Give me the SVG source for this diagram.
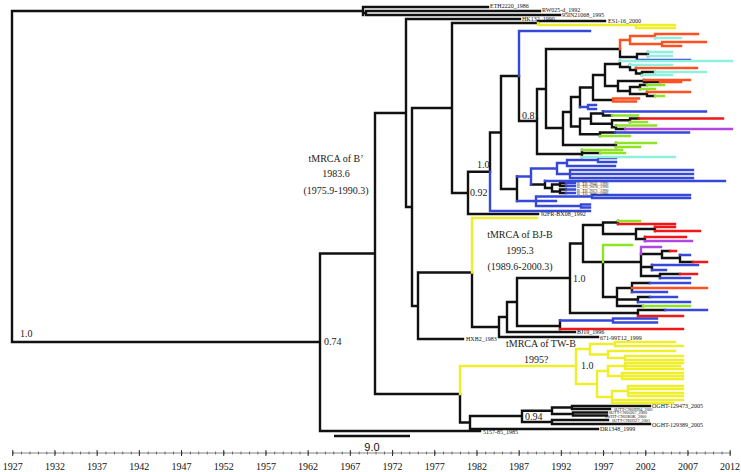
<svg xmlns="http://www.w3.org/2000/svg" width="741" height="472" viewBox="0 0 741 472">
<style>
.e{fill:none;stroke-width:2.4;stroke-linecap:square}
.k{stroke:#111}.bl{stroke:#3548d8}.or{stroke:#ff5020}.cy{stroke:#8ff0e0}.gr{stroke:#8fe326}.rd{stroke:#ee1818}.pu{stroke:#b048e0}.ye{stroke:#eeee2a}
.t{font-family:"Liberation Serif",serif;font-size:6px;fill:#111}
.s{font-family:"Liberation Serif",serif;font-size:4.2px;fill:#111}
.a{font-family:"Liberation Serif",serif;font-size:10px;fill:#222}
.m{font-family:"Liberation Serif",serif;font-size:10px;fill:#222;text-anchor:middle}
.yr{font-family:"Liberation Serif",serif;font-size:10px;fill:#111;text-anchor:middle}
</style>
<rect width="741" height="472" fill="#fff"/>
<g id="connectors">
<path class="e k" d="M12 11V342M12 11H363M363 7V15M363 7H488M363 13H366M366 11V15M366 11H540M366 15H560
M12 342H320M320 253.5V431M320 431H480M320 253.5H375M375 113V394M375 113H406
M406 19V207M406 19H520M406 207H412M412 108V306M412 108H452
M452 23V193M452 23H538M538 21V23M538 21H605
M452 193H468M468 171.75V214M468 214H538M468 171.75H490M490 132.5V171.75M490 132.5H501
M501 76V189M501 76H519M519 76V121M519 121H537M537 89V154M537 89H546M546 49V128
M546 49H620M620 49V57M620 57H637M637 54V60M637 54H648M648 52V56
M546 128H563M563 112V145M563 145H616M616 143V147M563 112H571M571 97V126.5M571 97H580
M580 87.5V107M580 87.5H593M593 75V100M593 100H613M593 75H605M605 64V86
M605 64H620M620 61V67M620 67H630M630 65V70M630 70H636M636 68V73.5M636 73.5H642M642 72V75M642 72H655
M605 86H618M618 81V91M618 81H644M644 80V82M644 82H660M618 91H630M630 87V94M630 87H640M640 85V89M640 85H647M630 94H647M647 92V96M647 96H655
M571 126.5H580M580 118.6V134.25M580 118.6H591M591 113.5V123.75M591 113.5H603M603 111.5V115.5M603 115.5H612
M591 123.75H612M612 120.25V127.25M612 120.25H630M630 118.5V122M630 118.5H639M612 127.25H616M616 125.5V129M616 129H625
M580 134.25H600M600 132.5V136M600 132.5H615
M537 154H582M582 150V157M582 153H600
M501 189H517M517 176.5V201M531 184.5H545
M545 181V188M545 188H552M552 184.5V191.5M552 184.5H560M560 183V186M552 191.5H560M560 189.5V193M560 183H566M560 186H566M560 189.5H566M560 193H566
M412 306H418M418 272.5V339M418 339H463M418 272.5H472M472 272.5V327M472 327H499
M499 317V337M499 337H598M499 317H507M507 302V332M507 332H575M507 302H517M517 278V326
M517 326H560M560 320.5V329M517 278H570M570 243.5V313M570 243.5H583M583 225V262
M583 225H603M603 222.5V234M603 222.5H618M618 221V224M603 234H636M636 229V239M636 229H655M655 227V231M636 239H645M645 237V241
M583 262H603M603 262V297M603 262H641
M641 254V276M641 254H662M662 251V258M662 251H670M662 258H680M680 255V262M680 262H693M641 267H652M652 265V270M641 276H660M660 274V278M660 274H680
M603 297H617M617 288V306M617 288H632M632 283V292M632 283H650M617 299.5H638M638 297V302M638 297H650M617 306H643
M570 313H638M638 310V316M638 310H665
M375 394H460M460 394V422.5M460 422.5H470M470 416V429M470 429H598M470 416H522M522 410.75V422
M522 410.75H552M552 407.5V414M552 407.5H572M572 406V409M572 406H650M572 409H610M552 414H573M573 412.5V415.5M573 412.5H607M573 415.5H607
M522 422H552M552 420V424M552 420H608M552 424H650"/>
<path class="e bl" d="M490 171.75V211M490 211H590M519 31V76M519 31H590M637 60H690
M580 107H588M588 105V109M588 105H596M588 109H596M603 111.5H706M615 132.5H689
M517 176.5H531M531 168.5V184.5M531 168.5H557M557 163V174M557 163H567M567 160V166M567 160H598M598 158V162M598 158H616M598 162H616M567 166H615M557 174H570M570 170V178M570 170H693M570 174H693M570 178H693M545 181H725
M566 183H575M566 186H575M566 189.5H575M566 193H575
M517 201H536M536 196.5V206M536 196.5H592M592 195V198M592 195H690M592 198H690M536 201H556M536 206H581M581 204.5V207.5M581 204.5H590M581 207.5H590
M560 320.5H613M613 318.5V322.5M613 318.5H657M613 322.5H657
M680 255H690M652 265H698M652 270H666M660 278H690
M650 283H690M632 292H667M650 297H677M638 302H690M665 310H707"/>
<path class="e or" d="M620 40V49M620 40H630M630 36V44M630 36H655M655 34V38M655 34H698M630 44H662M662 42V46M662 42H706M662 46H681
M636 68H697M644 80H690M660 82H681M647 92H690M613 98.5V101.5M613 98.5H639M613 101.5H636M632 288H707"/>
<path class="e cy" d="M655 38H681M648 52H672M648 56H672M620 61H732M630 65H672M655 72H706M642 75H672M582 157H675"/>
<path class="e gr" d="M616 143H656M616 147H640M647 85H664M640 89H655M655 96H664M612 115.5H638M630 122H647M616 125.5H656M600 136H630M582 150H622M600 153H625
M618 221H640M603 245V262M603 245H632M643 306H690"/>
<path class="e rd" d="M639 118.5H723M618 224H675M655 227H675M655 231H700M645 237H686M670 251H676M693 262H707M680 274H697M560 329H683M638 316H683"/>
<path class="e pu" d="M625 129H732M645 241H692M641 247V254M641 247H661"/>
<path class="e ye" d="M538 23V25M538 25H675M636 25V28M636 28H675M472 218V272.5M472 218H537
M460 366V394M460 366H576M576 349V384
M576 349H590M590 344V354.5M590 344H615M615 342V346M615 342H675M615 346H683M590 354.5H608M608 351V358M608 351H675M608 358H625M625 356V360M625 356H683M625 360H683
M576 384H597M597 371V397M597 371H608M608 366V376M608 366H625M625 363V369M625 363H683M625 366H680M625 369H683M608 376H622M622 373V379M622 373H683M622 376H683M622 379H683
M597 397H612M612 391V403M612 391H628M628 386V396M628 386H683M628 389H683M628 393H683M628 396H683M612 400H683M612 403H673"/>
</g>
<g id="tip-labels">
<g id="n-eth"><text class="t" x="490" y="8">ETH2220_1986</text></g>
<g id="n-rw"><text class="t" x="542" y="12">RW025-d_1992</text></g>
<g id="n-95in"><text class="t" x="562" y="16.5">95IN21068_1995</text></g>
<g id="n-hk"><text class="t" x="522" y="21">HK132_1990</text></g>
<g id="n-es"><text class="t" x="608" y="23">ES1-16_2000</text></g>
<g id="n-bth"><text class="s" x="577" y="184.5">B_TH_9041_1990</text><text class="s" x="577" y="188">B_TH_9078_1990</text><text class="s" x="577" y="191.5">B_TH_9071_1990</text><text class="s" x="577" y="195">B_TH_9081_1990</text></g>
<g id="n-92fr"><text class="t" x="541" y="216">92FR-BX08_1992</text></g>
<g id="n-hxb2"><text class="t" x="466" y="341">HXB2_1983</text></g>
<g id="n-bj19"><text class="t" x="577" y="334">BJ19_1996</text></g>
<g id="n-671"><text class="t" x="600" y="340">671-99T12_1999</text></g>
<g id="n-og1"><text class="t" x="652" y="408">OGHT-129473_2005</text></g>
<g id="n-ou1"><text class="s" x="614" y="410.5">0UTT-CN09H94_2001</text></g>
<g id="n-ou2"><text class="s" x="609" y="414">0UTT-CN00267_2000</text></g>
<g id="n-ow1"><text class="s" x="605" y="417.5">0WHT-CN03K0K_2000</text></g>
<g id="n-ou3"><text class="s" x="612" y="421.5">0UTT-CN09327_2001</text></g>
<g id="n-og2"><text class="t" x="652" y="427">OGHT-129389_2005</text></g>
<g id="n-dr"><text class="t" x="600" y="431">DR1348_1999</text></g>
<g id="n-5157"><text class="t" x="483" y="434">5157-85_1985</text></g>
</g>
<g id="annotations">
<text class="a" x="20" y="337">1.0</text>
<text class="a" x="324" y="345">0.74</text>
<text class="a" x="522" y="119">0.81</text>
<text class="a" x="477" y="168">1.0</text>
<text class="a" x="470" y="196">0.92</text>
<text class="a" x="573" y="282">1.0</text>
<text class="a" x="581" y="369">1.0</text>
<text class="a" x="525" y="420">0.94</text>
<g id="tmrca-b"><text class="m" x="336" y="162">tMRCA of B’</text><text class="m" x="336" y="177">1983.6</text><text class="m" x="336" y="194">(1975.9-1990.3)</text></g>
<g id="tmrca-bj"><text class="m" x="520" y="238">tMRCA of BJ-B</text><text class="m" x="520" y="254">1995.3</text><text class="m" x="520" y="270">(1989.6-2000.3)</text></g>
<g id="tmrca-tw"><text class="a" x="506" y="347">tMRCA of TW-B</text></g>
<g id="yq"><text class="a" x="524" y="363">1995?</text></g>
</g>
<g id="scale">
<path d="M334 436H410" stroke="#111" stroke-width="2.6"/>
<text x="372" y="451" font-family="Liberation Sans,sans-serif" font-size="11" text-anchor="middle" fill="#111">9.0</text>
</g>
<g id="axis">
<path d="M12 453H731" stroke="#666" stroke-width="0.8"/>
<path d="M12.7 453H731" stroke="#555" stroke-width="3" stroke-dasharray="0.8 7.64"/>
<path d="M12.7 450V456M54.9 450V456M97.1 450V456M139.3 450V456M181.5 450V456M223.7 450V456M265.9 450V456M308.1 450V456M350.3 450V456M392.5 450V456M434.7 450V456M476.9 450V456M519.1 450V456M561.3 450V456M603.5 450V456M645.7 450V456M687.9 450V456M730.1 450V456" stroke="#333" stroke-width="1"/>
<text class="yr" x="12.7" y="470">1927</text><text class="yr" x="54.9" y="470">1932</text><text class="yr" x="97.1" y="470">1937</text><text class="yr" x="139.3" y="470">1942</text><text class="yr" x="181.5" y="470">1947</text><text class="yr" x="223.7" y="470">1952</text><text class="yr" x="265.9" y="470">1957</text><text class="yr" x="308.1" y="470">1962</text><text class="yr" x="350.3" y="470">1967</text><text class="yr" x="392.5" y="470">1972</text><text class="yr" x="434.7" y="470">1977</text><text class="yr" x="476.9" y="470">1982</text><text class="yr" x="519.1" y="470">1987</text><text class="yr" x="561.3" y="470">1992</text><text class="yr" x="603.5" y="470">1997</text><text class="yr" x="645.7" y="470">2002</text><text class="yr" x="687.9" y="470">2007</text><text class="yr" x="730.1" y="470">2012</text>
</g>
</svg>
